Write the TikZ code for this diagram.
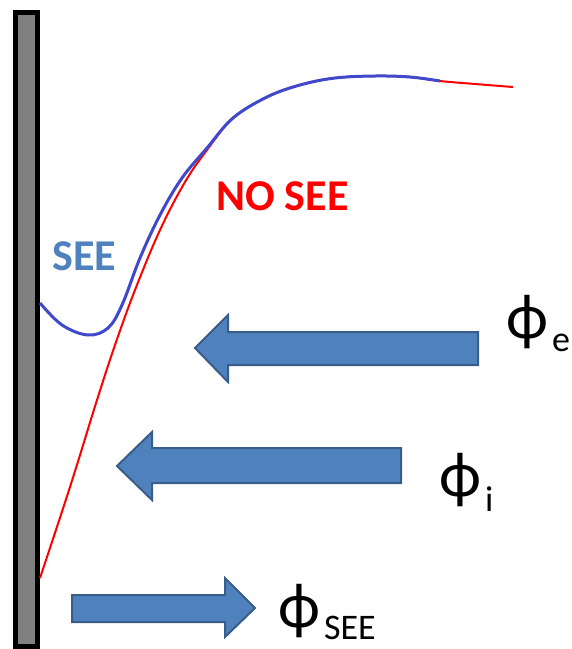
\documentclass[tikz,border=0pt]{standalone}
\usepackage{fontspec}
\setmainfont{Carlito}
\newcommand{\fluxlabel}[2]{{\fontsize{64}{64}\selectfont ϕ}\kern4pt\raisebox{#1}{\fontsize{36}{36}\selectfont #2}}
\begin{document}
\begin{tikzpicture}[x=1pt,y=-1pt,
  blockarrow/.style={fill={rgb,255:red,79;green,129;blue,189},draw={rgb,255:red,56;green,93;blue,138},line width=2pt,line join=miter},
  lbl/.style={inner sep=0pt,anchor=base west}]
\useasboundingbox (0,0) rectangle (572,649);
% wall
\draw[fill={rgb,255:red,128;green,128;blue,128},draw=black,line width=5pt] (15.5,12.5) rectangle (37.5,646);
% red curve (no SEE)
\draw[red,line width=2pt] plot[smooth,tension=0.6] coordinates {(40,578) (70,487) (97,400) (115,345) (135,290) (160,230) (185,182) (207,150) (233,118) (267,97) (300,85) (335,78) (375,76) (410,77) (440,81) (475,84) (513,87)};
% blue curve (SEE)
\draw[line width=3pt,color={rgb,255:red,64;green,72;blue,204}] plot[smooth,tension=0.6] coordinates {(40,303) (62,325) (88,335) (108,328) (122,305) (140,258) (160,215) (182,178) (207,148) (233,118) (267,97) (300,85) (335,78) (375,76) (410,77) (440,81)};
% labels
\node[lbl,text={rgb,255:red,79;green,129;blue,189},font=\fontsize{44}{44}\selectfont\bfseries] (see) at (52,270) {SEE};
\node[lbl,text=red,font=\fontsize{44}{44}\selectfont\bfseries] (nosee) at (216,210) {NO SEE};
% block arrows
\draw[blockarrow] (478,332) -- (228,332) -- (228,315) -- (195,348) -- (228,382) -- (228,365) -- (478,365) -- cycle;
\draw[blockarrow] (401,448) -- (152,448) -- (152,432) -- (117,466) -- (152,500) -- (152,483) -- (401,483) -- cycle;
\draw[blockarrow] (72,595) -- (225,595) -- (225,578) -- (255,608) -- (225,637) -- (225,622) -- (72,622) -- cycle;
% flux labels
\node[lbl] (phie) at (506,338) {\fluxlabel{-13pt}{e}};
\node[lbl] (phii) at (439,496) {\fluxlabel{-15pt}{i}};
\node[lbl] (phisee) at (278,627) {\fluxlabel{-12pt}{SEE}};
\end{tikzpicture}
\end{document}
